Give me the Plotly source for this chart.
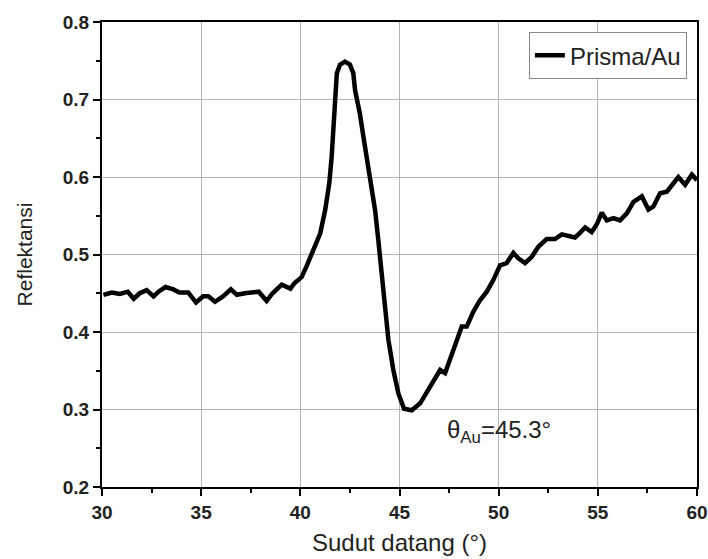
import plotly.graph_objects as go

theta = [30.07, 30.5, 30.9, 31.3, 31.6, 31.9, 32.25, 32.6, 32.85, 33.2, 33.6, 33.9, 34.35, 34.74,
         35.1, 35.36, 35.7, 36.1, 36.5, 36.8, 37.2, 37.6, 37.9, 38.3, 38.6, 39.06, 39.5, 39.7,
         40.07, 40.3, 40.57, 41.0, 41.25, 41.46, 41.58, 41.67, 41.75, 41.84, 42.0, 42.25, 42.5,
         42.67, 42.76, 43.0, 43.18, 43.35, 43.5, 43.77, 43.93, 44.02, 44.15, 44.27, 44.44,
         44.69, 44.94, 45.23, 45.62, 46.04, 46.54, 47.05, 47.3, 47.63, 47.97, 48.14, 48.39,
         48.72, 49.06, 49.4, 49.73, 50.07, 50.4, 50.74, 50.99, 51.33, 51.67, 52.0, 52.42,
         52.84, 53.18, 53.51, 53.85, 54.1, 54.36, 54.69, 54.95, 55.2, 55.45, 55.79, 56.12,
         56.46, 56.8, 57.22, 57.38, 57.55, 57.8, 58.14, 58.48, 58.81, 59.06, 59.4, 59.74, 60.0]
reflectance = [0.448, 0.451, 0.449, 0.452, 0.443, 0.450, 0.454, 0.446, 0.452, 0.458, 0.455, 0.451,
               0.451, 0.438, 0.446, 0.446, 0.439, 0.446, 0.455, 0.448, 0.450, 0.451, 0.452, 0.440,
               0.450, 0.461, 0.456, 0.463, 0.471, 0.484, 0.502, 0.527, 0.557, 0.592, 0.626, 0.669,
               0.712, 0.734, 0.745, 0.749, 0.745, 0.734, 0.712, 0.682, 0.652, 0.626, 0.596, 0.557,
               0.519, 0.497, 0.458, 0.424, 0.390, 0.351, 0.321, 0.301, 0.299, 0.308, 0.329, 0.351,
               0.347, 0.372, 0.394, 0.407, 0.407, 0.426, 0.441, 0.452, 0.467, 0.486, 0.489, 0.502,
               0.495, 0.489, 0.497, 0.510, 0.520, 0.520, 0.526, 0.524, 0.522, 0.528, 0.535, 0.529,
               0.539, 0.554, 0.544, 0.547, 0.544, 0.553, 0.568, 0.575, 0.568, 0.558, 0.562, 0.579,
               0.581, 0.592, 0.600, 0.590, 0.603, 0.596]

series_name = "Prisma/Au"
annotation_text = "θ<sub>Au</sub>=45.3°"
annotation_x = 47.3
annotation_y = 0.272

FONT = "Liberation Sans, Arial, sans-serif"

fig = go.Figure()
fig.add_trace(go.Scatter(x=theta, y=reflectance, mode="lines", name=series_name,
                         line=dict(color="black", width=4.5), showlegend=True))

fig.add_annotation(x=annotation_x, y=annotation_y, text=annotation_text, showarrow=False,
                   xanchor="left", yanchor="middle", font=dict(family=FONT, size=24, color="#222"))

axis_common = dict(showline=True, linecolor="black", linewidth=2, mirror=True,
                   ticks="outside", ticklen=7, tickwidth=2, tickcolor="black",
                   showgrid=True, gridcolor="#b4b4b4", gridwidth=1, zeroline=False,
                   automargin=False,
                   tickfont=dict(family=FONT, size=19, color="#222", weight="bold"))

fig.update_xaxes(range=[30, 60], dtick=5, tick0=30,
                 minor=dict(ticks="outside", ticklen=4, tickwidth=2, tickcolor="black", dtick=2.5, showgrid=False),
                 title=dict(text="Sudut datang (°)", font=dict(family=FONT, size=24, color="#222"), standoff=12),
                 **axis_common)
fig.update_yaxes(range=[0.2, 0.8], dtick=0.1, tick0=0.2, tickformat=".1f",
                 minor=dict(ticks="outside", ticklen=4, tickwidth=2, tickcolor="black", dtick=0.05, showgrid=False),
                 title=dict(text="Reflektansi", font=dict(family=FONT, size=21, color="#222"), standoff=24),
                 **axis_common)

fig.update_layout(width=708, height=559, margin=dict(l=102, r=11, t=22, b=72),
                  plot_bgcolor="white", paper_bgcolor="white",
                  legend=dict(x=0.983, y=0.978, xanchor="right", yanchor="top",
                              bgcolor="white", bordercolor="#888", borderwidth=1,
                              font=dict(family=FONT, size=24, color="#222"),
                              itemwidth=30, tracegroupgap=0))

fig.write_html("out.html", config={"displayModeBar": False},
               post_script="document.body.style.margin='0';document.body.style.overflow='hidden';")
